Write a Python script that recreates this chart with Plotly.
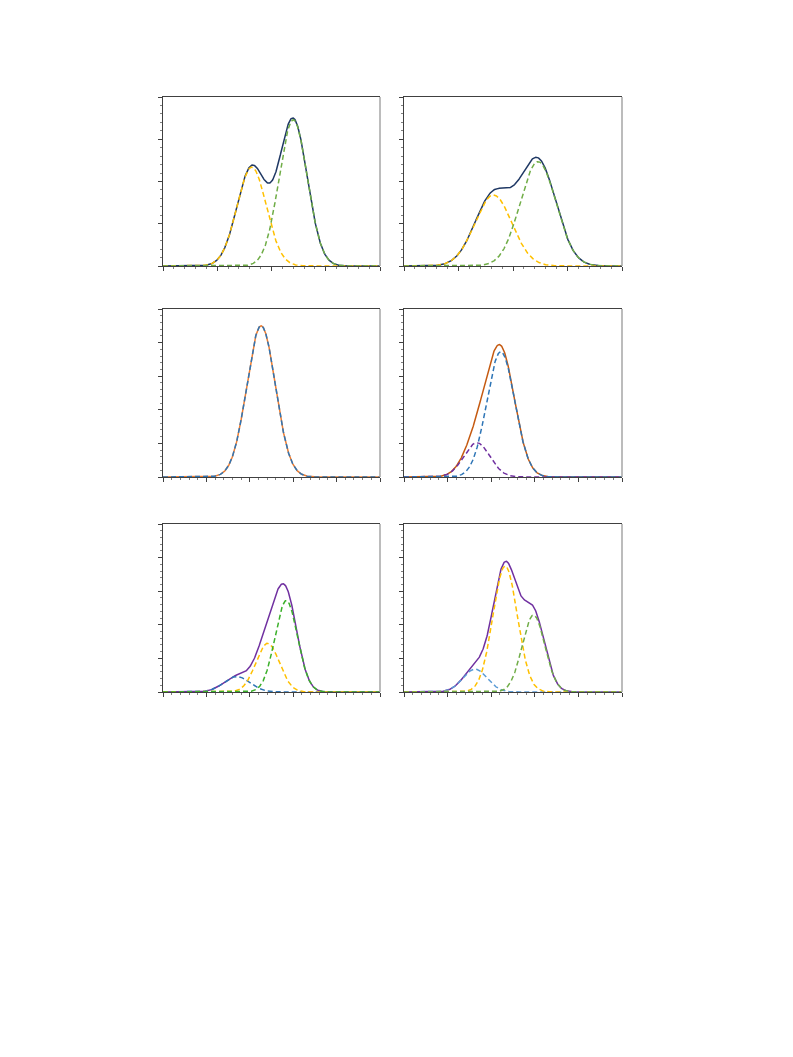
import numpy as np
import plotly.graph_objects as go

# ---- Data: Gaussian component parameters ----
# Panel 1 (row 1, col 1)
p1_names = ["yellow", "green"]
p1_centers = [1.635, 2.40]
p1_heights = [2.34, 3.46]
p1_widths = [0.27, 0.26]

# Panel 2 (row 1, col 2)
p2_names = ["yellow", "green"]
p2_centers = [1.64, 2.46]
p2_heights = [1.68, 2.47]
p2_widths = [0.34, 0.33]

# Panel 3 (row 2, col 1)
p3_names = ["blue"]
p3_centers = [2.26]
p3_heights = [4.50]
p3_widths = [0.33]

# Panel 4 (row 2, col 2)
p4_names = ["purple", "blue"]
p4_centers = [1.67, 2.22]
p4_heights = [1.02, 3.73]
p4_widths = [0.30, 0.32]

# Panel 5 (row 3, col 1)
p5_names = ["blue", "yellow", "green"]
p5_centers = [1.70, 2.41, 2.84]
p5_heights = [0.46, 1.45, 2.72]
p5_widths = [0.30, 0.27, 0.26]

# Panel 6 (row 3, col 2)
p6_names = ["blue", "yellow", "green"]
p6_centers = [1.63, 2.32, 2.97]
p6_heights = [0.68, 3.75, 2.29]
p6_widths = [0.28, 0.28, 0.26]

x_ranges = [4, 4, 5, 5, 5, 5]
y_ranges = [4, 4, 5, 5, 5, 5]

# ---- Styles ----
W, H = 793, 1057
OFF = 8  # page body margin
x_dom_px = [(163 - OFF, 380 - OFF), (404 - OFF, 622 - OFF)]
y_dom_px = [(97 - OFF, 266 - OFF), (309 - OFF, 477 - OFF), (524 - OFF, 692 - OFF)]

panels = [
    dict(c=p1_centers, h=p1_heights, w=p1_widths,
         comp_colors=["#FFC000", "#70AD47"], total_color="#1F3864"),
    dict(c=p2_centers, h=p2_heights, w=p2_widths,
         comp_colors=["#FFC000", "#70AD47"], total_color="#1F3864"),
    dict(c=p3_centers, h=p3_heights, w=p3_widths,
         comp_colors=["#2E75B6"], total_color="#ED7D31"),
    dict(c=p4_centers, h=p4_heights, w=p4_widths,
         comp_colors=["#7030A0", "#2E75B6"], total_color="#C55A11"),
    dict(c=p5_centers, h=p5_heights, w=p5_widths,
         comp_colors=["#2E75B6", "#FFC000", "#3BB02A"], total_color="#7030A0"),
    dict(c=p6_centers, h=p6_heights, w=p6_widths,
         comp_colors=["#5B9BD5", "#FFC000", "#70AD47"], total_color="#7030A0"),
]

fig = go.Figure()
layout = dict(width=W, height=H, margin=dict(l=0, r=0, t=0, b=0),
              paper_bgcolor="white", plot_bgcolor="white", showlegend=False)
shapes = []

for i, p in enumerate(panels):
    row, col = divmod(i, 2)
    n = i + 1
    xa = "xaxis" if n == 1 else f"xaxis{n}"
    ya = "yaxis" if n == 1 else f"yaxis{n}"
    xref = "x" if n == 1 else f"x{n}"
    yref = "y" if n == 1 else f"y{n}"
    xr = x_ranges[i]
    yr = y_ranges[i]
    x = np.linspace(0, xr, 600)
    comps = [hh * np.exp(-(x - cc) ** 2 / (2 * ww ** 2))
             for cc, hh, ww in zip(p["c"], p["h"], p["w"])]
    total = np.sum(comps, axis=0)
    fig.add_trace(go.Scatter(x=x, y=total, mode="lines", xaxis=xref, yaxis=yref,
                             line=dict(color=p["total_color"], width=1.5),
                             hoverinfo="skip"))
    for comp, colr in zip(comps, p["comp_colors"]):
        fig.add_trace(go.Scatter(x=x, y=comp, mode="lines", xaxis=xref, yaxis=yref,
                                 line=dict(color=colr, width=1.5, dash="5px,3px"),
                                 hoverinfo="skip"))
    x0, x1 = x_dom_px[col]
    y0, y1 = y_dom_px[row]
    layout[xa] = dict(domain=[x0 / W, x1 / W], range=[0, xr], anchor=yref,
                      showgrid=False, zeroline=False, showticklabels=False,
                      showline=True, linecolor="#404040", linewidth=1.2, mirror=True,
                      ticks="outside", ticklen=4, tickcolor="#404040", dtick=1, tick0=0,
                      minor=dict(ticks="outside", ticklen=2, dtick=0.2,
                                 tickcolor="#808080", showgrid=False),
                      fixedrange=True)
    layout[ya] = dict(domain=[1 - y1 / H, 1 - y0 / H], range=[0, yr], anchor=xref,
                      showgrid=False, zeroline=False, showticklabels=False,
                      showline=True, linecolor="#404040", linewidth=1.2,
                      ticks="outside", ticklen=4, tickcolor="#404040", dtick=1, tick0=0,
                      minor=dict(ticks="outside", ticklen=2, dtick=0.2,
                                 tickcolor="#808080", showgrid=False),
                      fixedrange=True)
    shapes.append(dict(type="line", xref="paper", yref="paper",
                       x0=x1 / W, x1=x1 / W, y0=1 - y1 / H, y1=1 - y0 / H,
                       line=dict(color="#A6A6A6", width=1.5)))

layout["shapes"] = shapes
fig.update_layout(**layout)
fig.write_html("out.html")
